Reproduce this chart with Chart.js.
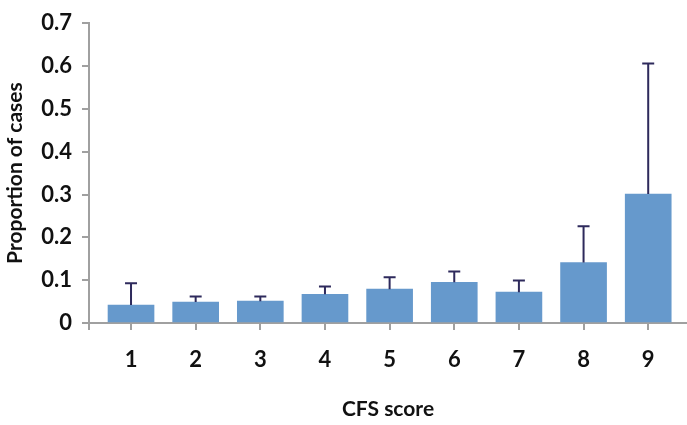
<!DOCTYPE html>
<html>
<head>
<meta charset="utf-8">
<script src="https://cdn.jsdelivr.net/npm/chart.js@4.4.1/dist/chart.umd.min.js"></script>
<style>
  html, body { margin: 0; padding: 0; background: #ffffff; }
  #wrap { width: 687px; height: 425px; position: relative; }
</style>
</head>
<body>
<div id="wrap"><canvas id="c" width="687" height="425"></canvas></div>
<script>
// ---- data ----
const cfsScores = [1, 2, 3, 4, 5, 6, 7, 8, 9];
const proportions = [0.042, 0.049, 0.051, 0.067, 0.079, 0.095, 0.072, 0.141, 0.301];
const upperLimits = [0.093, 0.062, 0.062, 0.085, 0.107, 0.120, 0.099, 0.226, 0.606];
const yTickValues = [0, 0.1, 0.2, 0.3, 0.4, 0.5, 0.6, 0.7];
const xTitle = 'CFS score';
const yTitle = 'Proportion of cases';

const FONT = 'Lato, "Open Sans", sans-serif';
const X_MIN = 0.35, X_MAX = 9.6;

const errorBarPlugin = {
  id: 'errorBars',
  afterDatasetsDraw(chart) {
    const ctx = chart.ctx;
    const xs = chart.scales.x, ys = chart.scales.y;
    ctx.save();
    ctx.strokeStyle = '#2e2a5c';
    ctx.lineWidth = 2;
    cfsScores.forEach((c, i) => {
      const x = xs.getPixelForValue(c);
      const y0 = ys.getPixelForValue(proportions[i]);
      const y1 = ys.getPixelForValue(upperLimits[i]);
      ctx.beginPath();
      ctx.moveTo(x, y0);
      ctx.lineTo(x, y1);
      ctx.moveTo(x - 6, y1);
      ctx.lineTo(x + 6, y1);
      ctx.stroke();
    });
    ctx.restore();
  }
};

new Chart(document.getElementById('c'), {
  type: 'bar',
  data: {
    datasets: [{
      data: cfsScores.map((c, i) => ({ x: c, y: proportions[i] })),
      backgroundColor: '#6699cc',
      borderWidth: 0,
      barThickness: 46
    }]
  },
  options: {
    responsive: false,
    animation: false,
    events: [],
    layout: { padding: { left: 0, right: 0, top: 14, bottom: 0 } },
    plugins: { legend: { display: false }, tooltip: { enabled: false } },
    scales: {
      x: {
        type: 'linear',
        min: X_MIN,
        max: X_MAX,
        offset: false,
        afterBuildTicks(scale) {
          scale.ticks = [{ value: X_MIN }].concat(cfsScores.map(v => ({ value: v })));
        },
        afterFit(scale) { scale.height = 102; },
        grid: { offset: false, drawOnChartArea: false, drawTicks: true, tickLength: 7, color: '#a0a0a0', lineWidth: 2 },
        border: { display: true, color: '#a0a0a0', width: 2 },
        ticks: {
          color: '#111111',
          font: { family: FONT, size: 22, weight: 'bold' },
          padding: 17,
          autoSkip: false,
          maxRotation: 0,
          callback: (v) => (Number.isInteger(v) ? String(v) : '')
        },
        title: {
          display: true,
          text: xTitle,
          color: '#111111',
          font: { family: FONT, size: 21, weight: 'bold' },
          padding: { top: 4, bottom: 3 }
        }
      },
      y: {
        min: 0,
        max: 0.7,
        afterBuildTicks(scale) {
          scale.ticks = yTickValues.map(v => ({ value: v }));
        },
        afterFit(scale) { scale.width = 89; },
        grid: { drawOnChartArea: false, drawTicks: true, tickLength: 7, color: '#a0a0a0', lineWidth: 2 },
        border: { display: true, color: '#a0a0a0', width: 2 },
        ticks: {
          color: '#111111',
          font: { family: FONT, size: 22, weight: 'bold' },
          padding: 10,
          callback: (v) => String(Number(v.toFixed(1)))
        },
        title: {
          display: true,
          text: yTitle,
          color: '#111111',
          font: { family: FONT, size: 21, weight: 'bold' },
          padding: { top: 3, bottom: 0 }
        }
      }
    }
  },
  plugins: [errorBarPlugin]
});
</script>
</body>
</html>
